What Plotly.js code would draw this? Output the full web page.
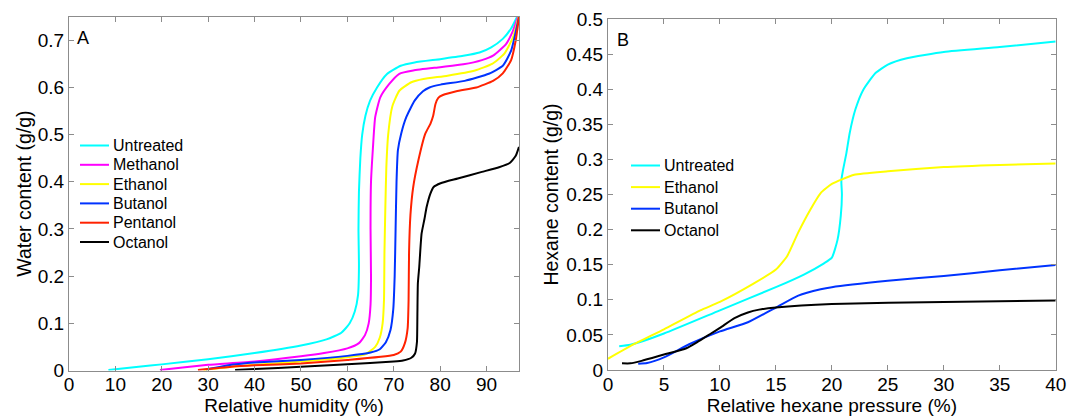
<!DOCTYPE html>
<html>
<head>
<meta charset="utf-8">
<script src="https://cdn.plot.ly/plotly-3.0.1.min.js"></script>
<style>html,body{margin:0;padding:0;background:#fff;}#chart{width:1067px;height:416px;}</style>
</head>
<body>
<div id="chart"></div>
<script>
// ---------- Panel A: water sorption ----------
const seriesA = ["Untreated", "Methanol", "Ethanol", "Butanol", "Pentanol", "Octanol"];
const colorsA = ["#00ffff", "#ff00ff", "#ffff00", "#0033ff", "#ff2200", "#000000"];

const untreatedA_x = [8.5, 15, 20, 30, 40, 50, 55.5, 58.7, 60.5, 61.6, 62.3, 62.5, 62.4, 62.5, 62.8, 63.2, 63.9, 64.9, 66.4, 68.5, 71.5, 74.5, 80, 85, 88.5, 91, 93.5, 95.3, 96.6];
const untreatedA_y = [0.001, 0.008, 0.013, 0.024, 0.037, 0.053, 0.066, 0.080, 0.100, 0.125, 0.16, 0.22, 0.30, 0.38, 0.45, 0.50, 0.54, 0.572, 0.60, 0.628, 0.646, 0.653, 0.660, 0.667, 0.674, 0.685, 0.703, 0.725, 0.75];

const methanolA_x = [19.6, 25, 30, 40, 50, 55, 60, 62.5, 63.8, 64.6, 65.0, 65.1, 65.0, 65.1, 65.5, 66.0, 67.1, 69.0, 71.2, 74.2, 80, 85, 89, 91.5, 94.2, 95.7, 96.8];
const methanolA_y = [0.001, 0.007, 0.012, 0.019, 0.030, 0.037, 0.047, 0.058, 0.075, 0.10, 0.14, 0.20, 0.30, 0.40, 0.47, 0.537, 0.579, 0.607, 0.629, 0.636, 0.643, 0.649, 0.658, 0.668, 0.692, 0.72, 0.75];

const ethanolA_x = [29, 35, 40, 50, 60, 64, 66.0, 67.0, 67.6, 67.9, 68.0, 68.2, 68.4, 68.8, 69.7, 71.2, 73.8, 76.4, 81.6, 87.5, 91.2, 93.8, 95.7, 96.9];
const ethanolA_y = [0.001, 0.008, 0.012, 0.019, 0.028, 0.035, 0.05, 0.07, 0.10, 0.15, 0.25, 0.35, 0.43, 0.50, 0.56, 0.593, 0.611, 0.618, 0.625, 0.636, 0.65, 0.671, 0.706, 0.75];

const butanolA_x = [29.5, 35, 40, 50, 60, 65, 67, 68.3, 69.3, 69.9, 70.2, 70.4, 70.6, 70.9, 71.6, 72.7, 74.5, 76.3, 77.7, 80.1, 85.3, 90.5, 93.5, 95.3, 97];
const butanolA_y = [0.002, 0.012, 0.017, 0.0225, 0.031, 0.038, 0.045, 0.06, 0.086, 0.13, 0.2, 0.3, 0.4, 0.467, 0.502, 0.537, 0.572, 0.592, 0.600, 0.606, 0.614, 0.629, 0.646, 0.678, 0.75];

const pentanolA_x = [27.8, 35, 40, 50, 60, 70, 71.5, 72.4, 73.0, 73.2, 73.3, 73.6, 74.2, 75.3, 76.8, 77.9, 78.5, 79.0, 79.6, 80.6, 83.5, 87.8, 91.4, 93.5, 95.3, 96.3, 97];
const pentanolA_y = [0.001, 0.008, 0.011, 0.015, 0.0225, 0.033, 0.040, 0.058, 0.09, 0.15, 0.25, 0.33, 0.389, 0.445, 0.502, 0.523, 0.54, 0.565, 0.578, 0.584, 0.592, 0.600, 0.614, 0.630, 0.658, 0.70, 0.75];

const octanolA_x = [35.8, 40, 50, 60, 70, 72, 73.8, 74.6, 75.0, 75.1, 75.2, 75.5, 76.0, 76.6, 77.1, 77.9, 78.6, 80.1, 83.8, 89.0, 92.7, 95.0, 96.3, 97];
const octanolA_y = [0.001, 0.003, 0.008, 0.013, 0.019, 0.021, 0.027, 0.036, 0.06, 0.12, 0.185, 0.22, 0.29, 0.32, 0.347, 0.375, 0.389, 0.397, 0.407, 0.421, 0.431, 0.44, 0.455, 0.474];

// ---------- Panel B: hexane sorption ----------
const seriesB = ["Untreated", "Ethanol", "Butanol", "Octanol"];
const colorsB = ["#00ffff", "#ffff00", "#0033ff", "#000000"];

const untreatedB_x = [1.0, 2, 5, 10, 15, 17.5, 19.3, 20.0, 20.5, 20.8, 20.9, 20.85, 21.0, 21.3, 21.6, 22.1, 22.8, 23.9, 25, 26.7, 30, 35, 40];
const untreatedB_y = [0.034, 0.036, 0.052, 0.085, 0.118, 0.136, 0.152, 0.16, 0.185, 0.22, 0.25, 0.27, 0.285, 0.309, 0.338, 0.371, 0.399, 0.423, 0.435, 0.444, 0.453, 0.460, 0.468];

const ethanolB_x = [0, 2.1, 5, 8.25, 10, 13, 15, 16, 17, 18.1, 19, 20, 22, 25, 30, 35, 40];
const ethanolB_y = [0.016, 0.035, 0.058, 0.085, 0.097, 0.123, 0.143, 0.162, 0.196, 0.229, 0.252, 0.265, 0.278, 0.283, 0.289, 0.292, 0.294];

const butanolB_x = [2.7, 3.5, 5, 7.3, 10, 12.5, 15, 17, 19, 20, 25, 30, 35, 40];
const butanolB_y = [0.009, 0.01, 0.018, 0.037, 0.055, 0.068, 0.089, 0.106, 0.115, 0.118, 0.127, 0.134, 0.142, 0.1495];

const octanolB_x = [1.25, 2, 3, 5, 7, 8, 9, 10, 11.3, 12.5, 13.5, 15, 20, 30, 40];
const octanolB_y = [0.0095, 0.0095, 0.013, 0.022, 0.031, 0.04, 0.05, 0.06, 0.074, 0.082, 0.086, 0.089, 0.094, 0.097, 0.099];

const xA = [untreatedA_x, methanolA_x, ethanolA_x, butanolA_x, pentanolA_x, octanolA_x];
const yA = [untreatedA_y, methanolA_y, ethanolA_y, butanolA_y, pentanolA_y, octanolA_y];
const xB = [untreatedB_x, ethanolB_x, butanolB_x, octanolB_x];
const yB = [untreatedB_y, ethanolB_y, butanolB_y, octanolB_y];

const FONT = '"Liberation Sans", Arial, Helvetica, sans-serif';
const W = 1067, H = 416;

const traces = [];
seriesA.forEach((n, i) => traces.push({
  x: xA[i], y: yA[i], name: n, type: 'scatter', mode: 'lines',
  line: {color: colorsA[i], width: 2, shape: 'spline', smoothing: 0.5},
  xaxis: 'x', yaxis: 'y', showlegend: false, hoverinfo: 'skip'
}));
seriesB.forEach((n, i) => traces.push({
  x: xB[i], y: yB[i], name: n, type: 'scatter', mode: 'lines',
  line: {color: colorsB[i], width: 2, shape: 'spline', smoothing: 0.5},
  xaxis: 'x2', yaxis: 'y2', showlegend: false, hoverinfo: 'skip'
}));

const frame = {
  showline: true, linecolor: '#8c8c8c', linewidth: 1, mirror: 'ticks',
  ticks: 'inside', ticklen: 5, tickwidth: 1, tickcolor: '#8c8c8c',
  showgrid: false, zeroline: false,
  tickfont: {family: FONT, size: 19, color: '#000'}
};

const shapes = [];
const annotations = [];
// manual legends (positions in pixels converted to paper)
function addLegend(names, colors, lineX0, lineX1, textX, rowY0, rowStep) {
  names.forEach((n, i) => {
    const yy = 1 - (rowY0 + i * rowStep) / H;
    shapes.push({type: 'line', xref: 'paper', yref: 'paper',
      x0: lineX0 / W, x1: lineX1 / W, y0: yy, y1: yy,
      line: {color: colors[i], width: 2}});
    annotations.push({xref: 'paper', yref: 'paper', x: textX / W, y: yy,
      xanchor: 'left', yanchor: 'middle', showarrow: false, text: n,
      font: {family: FONT, size: 16, color: '#000'}});
  });
}
addLegend(seriesA, colorsA, 80, 109, 111, 145.5, 19.3);
addLegend(seriesB, colorsB, 631, 660, 662, 165.5, 21.6);

annotations.push({xref: 'paper', yref: 'paper', x: 82.5 / W, y: 1 - 38.5 / H, xanchor: 'center', yanchor: 'middle',
  showarrow: false, text: 'A', font: {family: FONT, size: 18, color: '#000'}});
annotations.push({xref: 'paper', yref: 'paper', x: 623 / W, y: 1 - 40 / H, xanchor: 'center', yanchor: 'middle',
  showarrow: false, text: 'B', font: {family: FONT, size: 18, color: '#000'}});

const xTitleFont = {family: FONT, size: 19};
const layout = {
  width: W, height: H,
  margin: {l: 0, r: 0, t: 0, b: 0},
  paper_bgcolor: '#fff', plot_bgcolor: '#fff',
  showlegend: false,
  font: {family: FONT, color: '#000'},
  xaxis: Object.assign({}, frame, {
    domain: [69 / W, 519 / W], anchor: 'y', range: [0, 97], tick0: 0, dtick: 10,
    ticklabelstandoff: -3,
    title: {text: 'Relative humidity (%)', font: xTitleFont, standoff: 3}
  }),
  yaxis: Object.assign({}, frame, {
    domain: [1 - 370.5 / H, 1 - 16.7 / H], anchor: 'x', range: [0, 0.75], tick0: 0, dtick: 0.1,
    title: {text: 'Water content (g/g)', font: {family: FONT, size: 19.5}, standoff: 0}
  }),
  xaxis2: Object.assign({}, frame, {
    domain: [608 / W, 1055.7 / W], anchor: 'y2', range: [0, 40], tick0: 0, dtick: 5,
    ticklabelstandoff: -3,
    title: {text: 'Relative hexane pressure (%)', font: xTitleFont, standoff: 3}
  }),
  yaxis2: Object.assign({}, frame, {
    domain: [1 - 370 / H, 1 - 19 / H], anchor: 'x2', range: [0, 0.5], tick0: 0, dtick: 0.05,
    title: {text: 'Hexane content (g/g)', font: {family: FONT, size: 19.5}, standoff: 2}
  }),
  shapes: shapes,
  annotations: annotations
};

Plotly.newPlot('chart', traces, layout, {displayModeBar: false, staticPlot: true});
</script>
</body>
</html>
